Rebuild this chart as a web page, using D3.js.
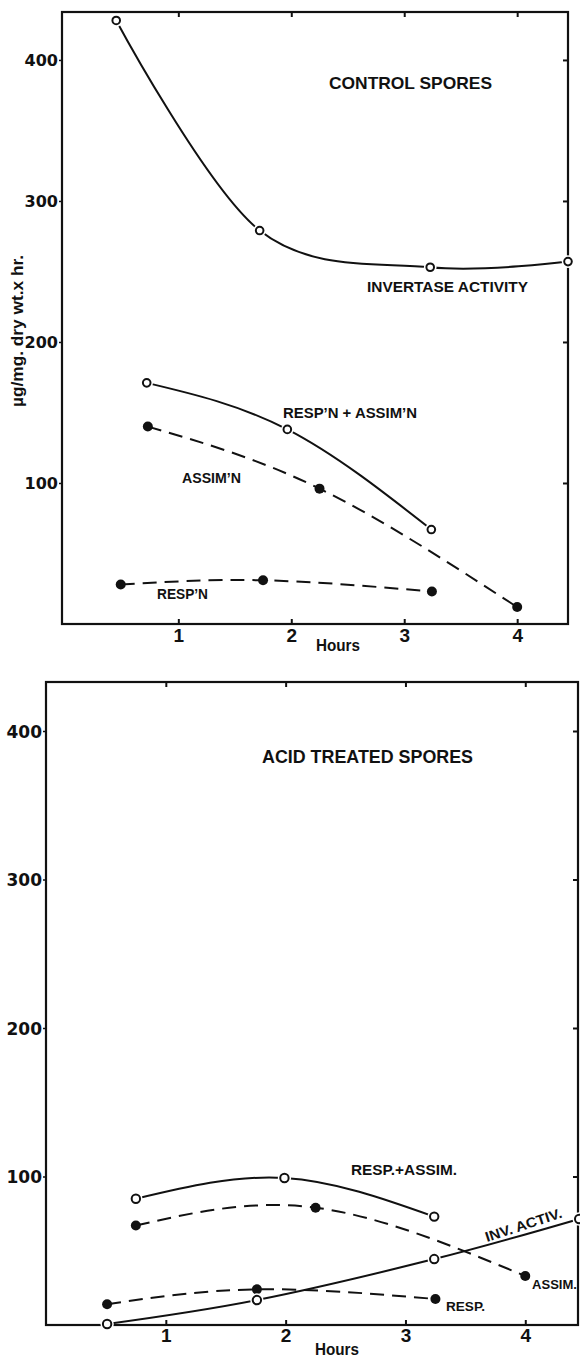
<!DOCTYPE html>
<html><head><meta charset="utf-8">
<script src="https://cdn.jsdelivr.net/npm/d3@7"></script>
<style>
body{margin:0;background:#fff}
svg{display:block}
text{fill:#111}
</style>
</head><body>
<svg id="chart" width="580" height="1357"></svg>
<script>
// ---------- data ----------
const xTickValues = [1, 2, 3, 4];
const yTickValues = [100, 200, 300, 400];

// Control spores
const ctrlInvHours = [0.45, 1.72, 3.23, 4.45];
const ctrlInvValues = [428, 279, 253, 257];
const ctrlTotHours = [0.72, 1.965, 3.24];
const ctrlTotValues = [171, 138, 67];
const ctrlAssimHours = [0.73, 2.25, 4.0];
const ctrlAssimValues = [140, 96, 12];
const ctrlRespHours = [0.49, 1.75, 3.245];
const ctrlRespValues = [28, 31, 23];

// Acid treated spores
const acidTotHours = [0.75, 1.99, 3.24];
const acidTotValues = [85, 99, 73];
const acidAssimHours = [0.75, 2.25, 4.0];
const acidAssimValues = [67, 79, 33];
const acidRespHours = [0.51, 1.76, 3.25];
const acidRespValues = [14, 24, 17.5];
const acidInvHours = [0.51, 1.76, 3.24, 4.45];
const acidInvValues = [0.7, 16.8, 44.4, 71.4];

// ---------- drawing ----------
const svg = d3.select("#chart");
const DASH = "14,8";

function panel(cfg) {
  const x = d3.scaleLinear().domain([cfg.xMin, cfg.xMax]).range([cfg.left, cfg.right]);
  const y = d3.scaleLinear().domain([0, cfg.yMax]).range([cfg.bottom, cfg.top]);
  const g = svg.append("g");

  // frame
  g.append("rect").attr("x", cfg.left).attr("y", cfg.top)
    .attr("width", cfg.right - cfg.left).attr("height", cfg.bottom - cfg.top)
    .attr("fill", "none").attr("stroke", "#111").attr("stroke-width", 2.2);

  // bottom axis
  const bx = g.append("g").attr("transform", `translate(0,${cfg.bottom})`)
    .call(d3.axisBottom(x).tickValues(xTickValues).tickSize(-5).tickSizeOuter(0).tickFormat(d3.format("d")));
  bx.select(".domain").remove();
  bx.selectAll("line").attr("stroke", "#111").attr("stroke-width", 2);
  bx.selectAll("text").attr("y", cfg.xLabelOffset).attr("dy", 0)
    .attr("font-family", "Liberation Sans, Arial, sans-serif").attr("font-weight", "bold")
    .attr("font-size", 19).attr("fill", "#111");

  // top axis (ticks only)
  const tx = g.append("g").attr("transform", `translate(0,${cfg.top})`)
    .call(d3.axisTop(x).tickValues(xTickValues).tickSize(-5).tickSizeOuter(0).tickFormat(""));
  tx.select(".domain").remove();
  tx.selectAll("line").attr("stroke", "#111").attr("stroke-width", 2);

  // left axis
  const ly = g.append("g").attr("transform", `translate(${cfg.left},0)`)
    .call(d3.axisLeft(y).tickValues(yTickValues).tickSize(3).tickSizeOuter(0).tickPadding(1).tickFormat(d3.format("d")));
  ly.select(".domain").remove();
  ly.selectAll("line").attr("stroke", "#111").attr("stroke-width", 1.5);
  ly.selectAll("text").attr("font-family", "DejaVu Sans, sans-serif").attr("font-weight", "bold")
    .attr("font-size", cfg.yFont).attr("fill", "#111").attr("dy", "0.36em");

  // right axis (ticks only)
  const ry = g.append("g").attr("transform", `translate(${cfg.right},0)`)
    .call(d3.axisRight(y).tickValues(yTickValues).tickSize(-5).tickSizeOuter(0).tickFormat(""));
  ry.select(".domain").remove();
  ry.selectAll("line").attr("stroke", "#111").attr("stroke-width", 2);

  // x title
  g.append("text").attr("x", cfg.hoursX).attr("y", cfg.hoursY)
    .attr("text-anchor", "middle").attr("font-family", "Liberation Sans, Arial, sans-serif")
    .attr("font-weight", "bold").attr("font-size", 16)
    .attr("textLength", 44).attr("lengthAdjust", "spacingAndGlyphs")
    .text("Hours");

  cfg.series.forEach(s => {
    const pts = d3.zip(s.hours, s.values);
    const line = d3.line().x(d => x(d[0])).y(d => y(d[1])).curve(s.curve || d3.curveNatural);
    g.append("path").datum(pts).attr("d", line)
      .attr("fill", "none").attr("stroke", "#111").attr("stroke-width", 2)
      .attr("stroke-dasharray", s.dashed ? DASH : null);
    if (s.open) {
      g.selectAll(null).data(pts).enter().append("circle")
        .attr("cx", d => x(d[0])).attr("cy", d => y(d[1])).attr("r", cfg.openR + 2.5)
        .attr("fill", "#fff");
      g.selectAll(null).data(pts).enter().append("circle")
        .attr("cx", d => x(d[0])).attr("cy", d => y(d[1])).attr("r", cfg.openR)
        .attr("fill", "#fff").attr("stroke", "#111").attr("stroke-width", 2);
    } else {
      g.selectAll(null).data(pts).enter().append("circle")
        .attr("cx", d => x(d[0])).attr("cy", d => y(d[1])).attr("r", cfg.fillR)
        .attr("fill", "#111");
    }
  });

  cfg.labels.forEach(l => {
    const t = g.append("text").attr("x", l.x).attr("y", l.y)
      .attr("font-family", "Liberation Sans, Arial, sans-serif").attr("font-weight", "bold")
      .attr("font-size", l.size)
      .text(l.text);
    if (l.len) t.attr("textLength", l.len).attr("lengthAdjust", "spacingAndGlyphs");
    if (l.rot) t.attr("transform", `rotate(${l.rot},${l.x},${l.y})`);
  });
  return {x, y};
}

panel({
  left: 62, right: 568, top: 12, bottom: 624, xMin: -0.03, xMax: 4.45, yMax: 434,
  xLabelOffset: 18, yFont: 16, hoursX: 338, hoursY: 651, openR: 3.8, fillR: 5,
  series: [
    {hours: ctrlInvHours, values: ctrlInvValues, open: true, dashed: false, curve: d3.curveCatmullRom.alpha(0)},
    {hours: ctrlTotHours, values: ctrlTotValues, open: true, dashed: false},
    {hours: ctrlAssimHours, values: ctrlAssimValues, open: false, dashed: true},
    {hours: ctrlRespHours, values: ctrlRespValues, open: false, dashed: true}
  ],
  labels: [
    {text: "CONTROL  SPORES", x: 329, y: 89, size: 17, len: 163},
    {text: "INVERTASE ACTIVITY", x: 367, y: 292, size: 15, len: 161},
    {text: "RESP\u2019N + ASSIM\u2019N", x: 283, y: 418, size: 14, len: 134},
    {text: "ASSIM\u2019N", x: 182, y: 483, size: 14, len: 59},
    {text: "RESP\u2019N", x: 157, y: 599, size: 14, len: 51}
  ]
});

panel({
  left: 46, right: 578, top: 682, bottom: 1325, xMin: 0, xMax: 4.44, yMax: 433,
  xLabelOffset: 17, yFont: 17, hoursX: 337, hoursY: 1355, openR: 4.2, fillR: 5,
  series: [
    {hours: acidTotHours, values: acidTotValues, open: true, dashed: false},
    {hours: acidAssimHours, values: acidAssimValues, open: false, dashed: true},
    {hours: acidRespHours, values: acidRespValues, open: false, dashed: true},
    {hours: acidInvHours, values: acidInvValues, open: true, dashed: false, curve: d3.curveCatmullRom.alpha(0)}
  ],
  labels: [
    {text: "ACID  TREATED  SPORES", x: 262, y: 763, size: 17.5, len: 211},
    {text: "RESP.+ASSIM.", x: 351, y: 1175, size: 14, len: 106},
    {text: "INV. ACTIV.", x: 487, y: 1242, size: 14, len: 80, rot: -18},
    {text: "ASSIM.", x: 532, y: 1289, size: 13.5, len: 45},
    {text: "RESP.", x: 446, y: 1311, size: 13.5, len: 39}
  ]
});

// y-axis title (top panel)
svg.append("text")
  .attr("transform", "translate(23,331) rotate(-90)")
  .attr("text-anchor", "middle")
  .attr("font-family", "Liberation Sans, Arial, sans-serif").attr("font-weight", "bold")
  .attr("font-size", 16).attr("fill", "#111")
  .attr("textLength", 152).attr("lengthAdjust", "spacingAndGlyphs")
  .text("\u00b5g/mg. dry wt.x hr.");
</script>
</body></html>
